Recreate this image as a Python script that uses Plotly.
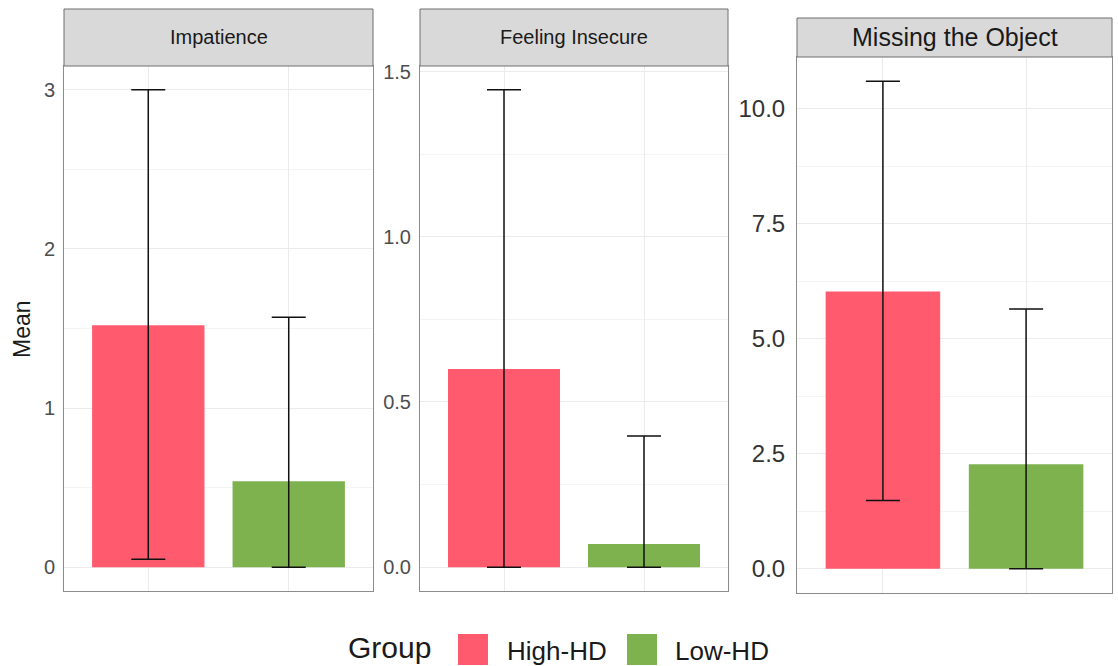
import plotly.graph_objects as go

# ---- data ----
facets = ["Impatience", "Feeling Insecure", "Missing the Object"]
groups = ["High-HD", "Low-HD"]
mean_high = [1.52, 0.60, 6.03]
mean_low = [0.54, 0.07, 2.27]
lower_high = [0.05, 0.0, 1.48]
upper_high = [3.0, 1.445, 10.6]
lower_low = [0.0, 0.0, 0.0]
upper_low = [1.57, 0.397, 5.65]
tick_step = [1.0, 0.5, 2.5]
tick_fmt = ["d", ".1f", ".1f"]

colors = {"High-HD": "#FF5A6E", "Low-HD": "#7DB24F"}

W, H = 1118, 666
# panel pixel boxes: (left, right, strip_top, plot_top, plot_bottom)
panels = [
    (64, 373, 9, 66, 591),
    (420, 728, 9, 66, 591),
    (797, 1112, 18, 57, 593),
]
tick_font = [20, 20, 24]
tick_gap = [4, 4, 6]
strip_font = [20, 20, 25]
tick_color = ["#4D4D4D", "#4D4D4D", "#333333"]

fig = go.Figure()
shapes, annotations = [], []
for i, f in enumerate(facets):
    xa = "x" if i == 0 else f"x{i+1}"
    ya = "y" if i == 0 else f"y{i+1}"
    means = [mean_high[i], mean_low[i]]
    lows = [lower_high[i], lower_low[i]]
    ups = [upper_high[i], upper_low[i]]
    for g, m, lo, up in zip(groups, means, lows, ups):
        fig.add_trace(go.Bar(
            x=[g], y=[m], width=0.8, xaxis=xa, yaxis=ya,
            marker=dict(color=colors[g], line=dict(width=0)),
            error_y=dict(type="data", symmetric=False, array=[up - m],
                         arrayminus=[m - lo], color="#111111", thickness=1.5,
                         width=17),
            showlegend=False, name=g,
        ))
    l, r, st, pt, pb = panels[i]
    ymin = min(0, min(lows))
    ymax = max(ups)
    pad = 0.05 * (ymax - ymin)
    xd = [l / W, r / W]
    yd = [1 - pb / H, 1 - pt / H]
    step = tick_step[i]
    fig.update_layout(**{
        ("xaxis" if i == 0 else f"xaxis{i+1}"): dict(
            domain=xd, anchor=ya, type="category", range=[-0.6, 1.6],
            showticklabels=False, ticks="", showgrid=True, gridcolor="#EBEBEB",
            showline=True, mirror=True, linecolor="#8C8C8C", linewidth=1,
            fixedrange=True, automargin=False),
        ("yaxis" if i == 0 else f"yaxis{i+1}"): dict(
            domain=yd, anchor=xa, range=[ymin - pad, ymax + pad],
            tick0=0, dtick=step, tickformat=tick_fmt[i], ticks="",
            showgrid=True, gridcolor="#EBEBEB", zeroline=False,
            minor=dict(dtick=step / 2, tick0=0, showgrid=True, gridcolor="#F4F4F4"),
            showline=True, mirror=True, linecolor="#8C8C8C", linewidth=1,
            tickfont=dict(size=tick_font[i], color=tick_color[i]),
            ticklabelstandoff=tick_gap[i], automargin=False),
    })
    shapes.append(dict(type="rect", xref="paper", yref="paper",
                       x0=l / W, x1=r / W, y0=1 - pt / H, y1=1 - st / H,
                       fillcolor="#D9D9D9", line=dict(color="#6E6E6E", width=1)))
    annotations.append(dict(text=f, xref="paper", yref="paper",
                            x=(l + r) / 2 / W, y=1 - (st + pt) / 2 / H,
                            showarrow=False, xanchor="center", yanchor="middle",
                            font=dict(size=strip_font[i], color="#1A1A1A")))

# y title
annotations.append(dict(text="Mean", xref="paper", yref="paper", x=22 / W, y=1 - 329 / H,
                        textangle=-90, showarrow=False, xanchor="center", yanchor="middle",
                        font=dict(size=23, color="#1A1A1A")))

# legend (drawn manually for large keys)
annotations.append(dict(text="Group", xref="paper", yref="paper", x=346 / W, y=1 - 647 / H,
                        showarrow=False, xanchor="left", yanchor="middle",
                        font=dict(size=30, color="#1A1A1A")))
leg_items = [("High-HD", 458, 505), ("Low-HD", 627, 673)]
for g, kx, tx in leg_items:
    shapes.append(dict(type="rect", xref="paper", yref="paper",
                       x0=kx / W, x1=(kx + 30) / W, y0=1 - 665 / H, y1=1 - 634 / H,
                       fillcolor=colors[g], line=dict(width=0)))
    annotations.append(dict(text=g, xref="paper", yref="paper", x=tx / W, y=1 - 651 / H,
                            showarrow=False, xanchor="left", yanchor="middle",
                            font=dict(size=26, color="#1A1A1A")))

fig.update_layout(
    width=W, height=H, margin=dict(l=0, r=0, t=0, b=0, autoexpand=False),
    paper_bgcolor="white", plot_bgcolor="white",
    font=dict(family="Liberation Sans, Arial, sans-serif"),
    shapes=shapes, annotations=annotations, barmode="overlay",
    showlegend=False,
)
fig.write_html(
    "out.html",
    config={"displayModeBar": False},
    post_script="document.body.style.margin='0';document.body.style.padding='0';"
                "document.documentElement.style.overflow='hidden';",
)
